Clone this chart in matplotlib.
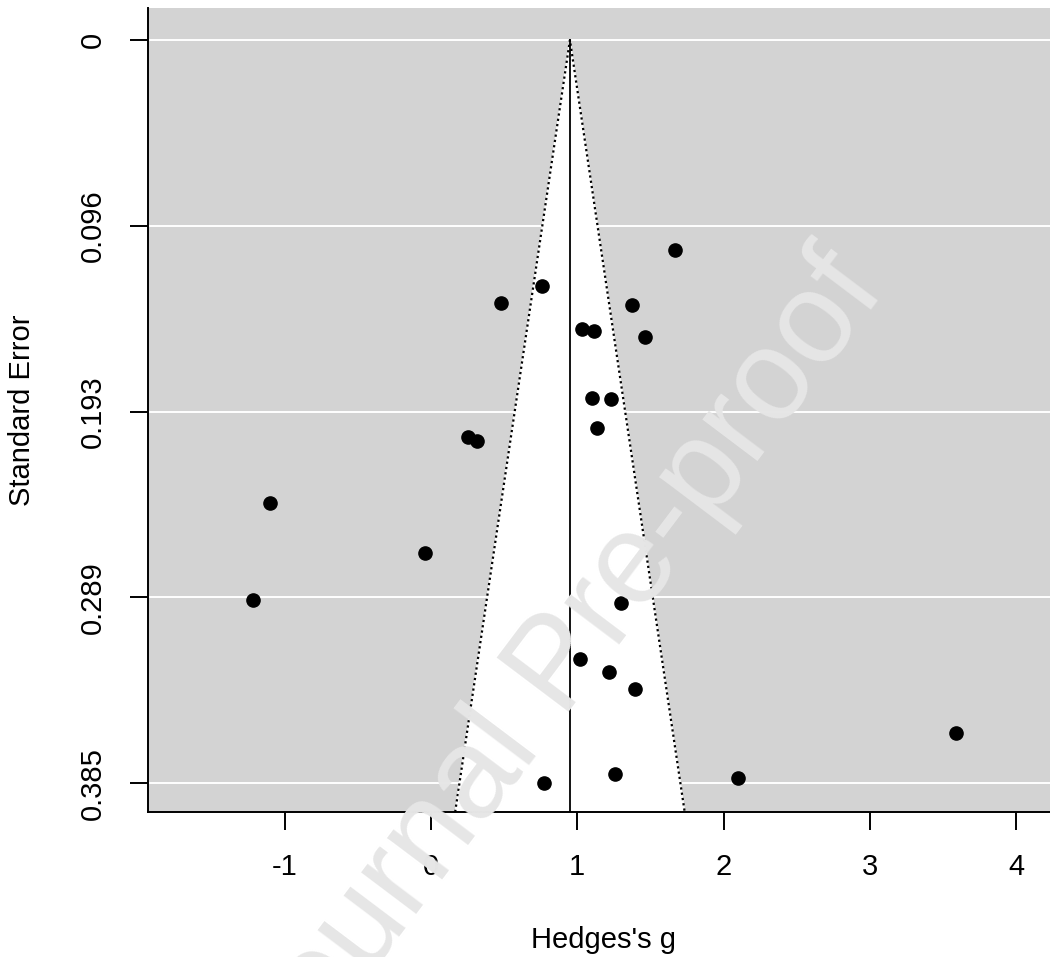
"""
Funnel plot of Hedges's g against standard error
"""

# ==========================================================
# IMPORTS
# ==========================================================

import matplotlib

matplotlib.use("Agg")

import matplotlib.pyplot as plt

# ==========================================================
# DATA
# ==========================================================

HEDGES_G = [
    1.668, 0.761, 0.476, 1.372, 1.032, 1.116, 1.461, 1.098,
    1.228, 1.137, 0.255, 0.312, -1.103, -0.041, -1.219, 1.301,
    1.018, 1.215, 1.396, 3.589, 1.256, 2.096, 0.774
]

STD_ERROR = [
    0.1089, 0.1275, 0.1363, 0.1372, 0.1500, 0.1510, 0.1538, 0.1854,
    0.1863, 0.2010, 0.2060, 0.2079, 0.2402, 0.2658, 0.2903, 0.2917,
    0.3209, 0.3276, 0.3364, 0.3591, 0.3805, 0.3826, 0.3852
]

POOLED_ESTIMATE = 0.95

X_TICKS = [-1, 0, 1, 2, 3, 4]

SE_TICKS = [0.0, 0.0963, 0.1926, 0.2889, 0.3852]
SE_LABELS = ["0", "0.096", "0.193", "0.289", "0.385"]

# ==========================================================
# STYLE
# ==========================================================

W, H = 1050, 957
FONT = "Liberation Sans"
FS = 21

plt.rcParams["font.family"] = [FONT, "DejaVu Sans"]


def px_x(p):
    return p / W


def px_y(p):
    return 1 - p / H


# ==========================================================
# FUNNEL PLOT
# ==========================================================

def funnel_plot():

    fig = plt.figure(figsize=(W / 100, H / 100), dpi=100)

    left, right, top, bottom = 148, 1059, 8, 812

    ax = fig.add_axes([
        px_x(left),
        px_y(bottom),
        (right - left) / W,
        (bottom - top) / H
    ])

    ax.set_xlim(-1.934, 4.293)
    ax.set_ylim(0.4002, -0.0166)

    ax.set_facecolor("#d3d3d3")

    # grid lines
    for t in SE_TICKS:
        ax.axhline(t, color="white", lw=1.4, zorder=1)

    # pseudo confidence region
    se_max = ax.get_ylim()[0]
    half = 1.96 * se_max

    ax.fill(
        [POOLED_ESTIMATE - half, POOLED_ESTIMATE, POOLED_ESTIMATE + half],
        [se_max, 0, se_max],
        color="white",
        zorder=2
    )

    ax.plot(
        [POOLED_ESTIMATE - half, POOLED_ESTIMATE, POOLED_ESTIMATE + half],
        [se_max, 0, se_max],
        color="black",
        lw=1.6,
        ls=(0, (1.0, 1.4)),
        zorder=3
    )

    ax.plot(
        [POOLED_ESTIMATE, POOLED_ESTIMATE],
        [0, se_max],
        color="black",
        lw=1.3,
        zorder=3
    )

    ax.plot(
        HEDGES_G,
        STD_ERROR,
        "o",
        color="black",
        ms=9.5,
        zorder=4
    )

    for side in ["top", "right"]:
        ax.spines[side].set_visible(False)

    for side in ["left", "bottom"]:
        ax.spines[side].set_linewidth(1.4)

    ax.set_xticks(X_TICKS)
    ax.set_xticklabels([str(v) for v in X_TICKS])

    ax.set_yticks(SE_TICKS)
    ax.set_yticklabels(SE_LABELS, rotation=90, va="center")

    ax.tick_params(
        axis="both",
        length=12.7,
        width=1.4,
        pad=17,
        labelsize=FS,
        colors="black"
    )

    fig.text(
        px_x(603.5), px_y(940),
        "Hedges's g",
        ha="center", va="center",
        fontsize=FS
    )

    fig.text(
        px_x(22), px_y(410),
        "Standard Error",
        rotation=90,
        ha="center", va="center",
        fontsize=FS
    )

    # watermark (runs off the bottom edge, as in the source)
    fig.text(
        px_x(560), px_y(668),
        "Journal Pre-proof",
        rotation=53,
        ha="center", va="center",
        fontsize=93,
        color="#e6e6e6",
        zorder=10
    )

    fig.savefig("out.png", dpi=100)

    plt.close(fig)


# ==========================================================
# MAIN
# ==========================================================

def main():

    funnel_plot()


if __name__ == "__main__":

    main()
